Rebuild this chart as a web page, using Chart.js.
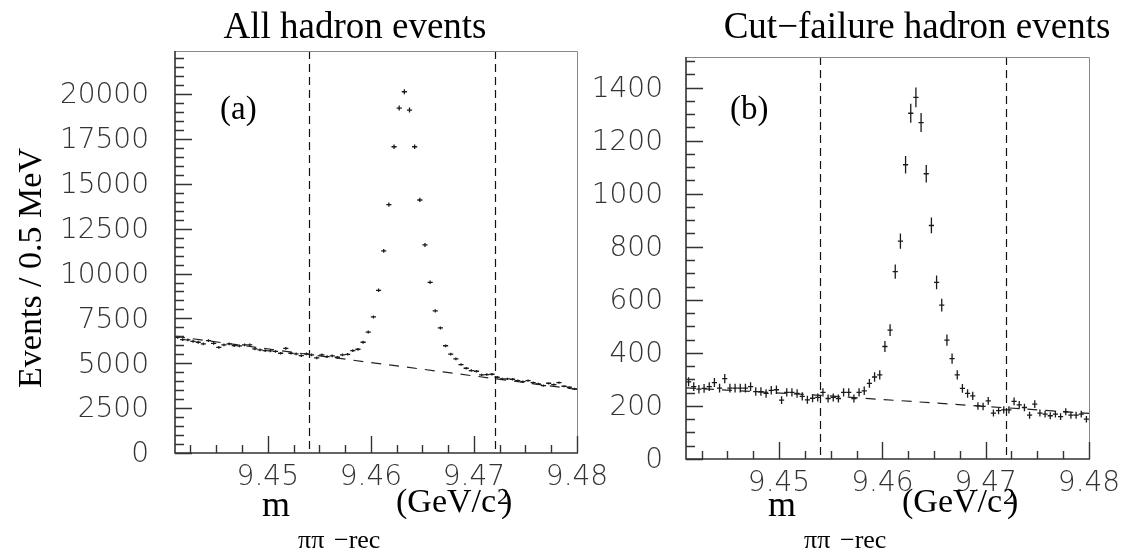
<!DOCTYPE html>
<html>
<head>
<meta charset="utf-8">
<script src="https://cdn.jsdelivr.net/npm/chart.js@4.4.1/dist/chart.umd.min.js"></script>
<style>
  html, body { margin: 0; padding: 0; background: #fff; }
  body { width: 1125px; height: 552px; position: relative; overflow: hidden; }
  canvas { position: absolute; left: 0; top: 0; }
</style>
</head>
<body>
<canvas id="chartA" width="1125" height="552" style="width:1125px;height:552px"></canvas>
<canvas id="chartB" width="1125" height="552" style="width:1125px;height:552px"></canvas>
<script>
// ---------------- data ----------------
const binWidth = 0.0005;           // GeV (0.5 MeV)
const xMin = 9.441, xMax = 9.48;

const binCenters = [
  9.44125, 9.44175, 9.44225, 9.44275, 9.44325, 9.44375, 9.44425, 9.44475, 9.44525, 9.44575,
  9.44625, 9.44675, 9.44725, 9.44775, 9.44825, 9.44875, 9.44925, 9.44975, 9.45025, 9.45075,
  9.45125, 9.45175, 9.45225, 9.45275, 9.45325, 9.45375, 9.45425, 9.45475, 9.45525, 9.45575,
  9.45625, 9.45675, 9.45725, 9.45775, 9.45825, 9.45875, 9.45925, 9.45975, 9.46025, 9.46075,
  9.46125, 9.46175, 9.46225, 9.46275, 9.46325, 9.46375, 9.46425, 9.46475, 9.46525, 9.46575,
  9.46625, 9.46675, 9.46725, 9.46775, 9.46825, 9.46875, 9.46925, 9.46975, 9.47025, 9.47075,
  9.47125, 9.47175, 9.47225, 9.47275, 9.47325, 9.47375, 9.47425, 9.47475, 9.47525, 9.47575,
  9.47625, 9.47675, 9.47725, 9.47775, 9.47825, 9.47875, 9.47925, 9.47975
];

// (a) All hadron events
const countsAll = [
  6447, 6320, 6303, 6225, 6170, 6080, 6264, 6114, 5891, 6025,
  6080, 5986, 5969, 6025, 6025, 5802, 5746, 5707, 5691, 5668,
  5557, 5835, 5557, 5523, 5429, 5523, 5468, 5301, 5468, 5373,
  5412, 5334, 5468, 5501, 5707, 5780, 6170, 6740, 7580, 9065,
  11258, 13836, 17066, 19220, 20128, 19110, 17066, 14098, 11592, 9510,
  7918, 6971, 5975, 5510, 5245, 4928, 4722, 4594, 4555, 4354,
  4371, 4388, 4221, 4131, 4131, 4109, 4037, 3981, 4037, 3925,
  3853, 3758, 3886, 3814, 3925, 3720, 3664, 3575
];

// (b) Cut-failure hadron events
const countsCutFail = [
  291, 273, 263, 266, 273, 288, 267, 303, 267, 267,
  267, 267, 273, 254, 254, 247, 259, 261, 222, 251,
  251, 247, 236, 223, 229, 232, 251, 228, 232, 228,
  251, 251, 228, 251, 257, 285, 309, 317, 424, 486,
  706, 821, 1109, 1303, 1363, 1268, 1075, 880, 666, 580,
  448, 378, 317, 266, 247, 238, 200, 198, 219, 173,
  182, 185, 185, 217, 204, 194, 165, 207, 173, 169,
  163, 169, 160, 178, 165, 165, 169, 150
];

// background fits (dashed curves)
const bgX = [9.441, 9.454, 9.467, 9.48];
const bgAll = [6500, 5490, 4520, 3540];
const bgCutFail = [268, 240, 206, 172];

// signal-region cut lines
const cutLines = [9.454, 9.472];

// axis ticks / labels
const xTickLabels = [9.45, 9.46, 9.47, 9.48];
const yTicksAll = [0, 2500, 5000, 7500, 10000, 12500, 15000, 17500, 20000];
const yTicksCutFail = [0, 200, 400, 600, 800, 1000, 1200, 1400];

// ---------------- drawing helpers ----------------
const SERIF = "'Liberation Serif', 'Times New Roman', serif";
const TICKFONT = { family: "'DejaVu Sans', sans-serif", size: 28, weight: '200' };

function rootPlugin(cfg) {
  return {
    id: 'rootStyle' + cfg.id,
    afterDatasetsDraw(chart) {
      const { ctx, chartArea: a, scales: { x, y } } = chart;
      ctx.save();
      // cut lines
      ctx.strokeStyle = '#111';
      ctx.lineWidth = 1.2;
      ctx.setLineDash([8, 5]);
      cutLines.forEach(c => {
        const px = Math.round(x.getPixelForValue(c)) + 0.5;
        ctx.beginPath(); ctx.moveTo(px, a.top); ctx.lineTo(px, a.bottom); ctx.stroke();
      });
      ctx.setLineDash([]);
      // error-bar crosses
      ctx.beginPath();
      ctx.rect(a.left, a.top, a.right - a.left, a.bottom - a.top);
      ctx.clip();
      ctx.strokeStyle = '#1a1a1a';
      ctx.lineWidth = 1.3;
      const ds = chart.data.datasets.find(d => d.errorBars);
      ds.data.forEach(p => {
        const err = Math.sqrt(p.y);
        const px = x.getPixelForValue(p.x);
        const py = y.getPixelForValue(p.y);
        const xl = x.getPixelForValue(p.x - binWidth / 2);
        const xr = x.getPixelForValue(p.x + binWidth / 2);
        const yt = y.getPixelForValue(p.y + err);
        const yb = y.getPixelForValue(p.y - err);
        ctx.beginPath();
        ctx.moveTo(xl, py); ctx.lineTo(xr, py);
        ctx.moveTo(px, yt); ctx.lineTo(px, yb);
        ctx.stroke();
      });
      ctx.restore();
    },
    afterDraw(chart) {
      const { ctx, chartArea: a, scales: { x, y } } = chart;
      ctx.save();
      // frame
      ctx.lineWidth = 1;
      ctx.strokeStyle = '#888';
      ctx.beginPath();
      ctx.moveTo(a.left, a.top + 0.5); ctx.lineTo(a.right + 0.5, a.top + 0.5); ctx.lineTo(a.right + 0.5, a.bottom);
      ctx.stroke();
      ctx.lineWidth = 1.6;
      ctx.strokeStyle = '#333';
      ctx.beginPath();
      ctx.moveTo(a.left, a.top); ctx.lineTo(a.left, a.bottom); ctx.lineTo(a.right + 1, a.bottom);
      ctx.stroke();
      // inward ticks
      ctx.lineWidth = 1.4;
      ctx.strokeStyle = '#333';
      ctx.beginPath();
      for (let v = 0; v <= y.max + 1e-9; v += cfg.yMinor) {
        const major = Math.abs(v / cfg.yMajor - Math.round(v / cfg.yMajor)) < 1e-6;
        const py = Math.round(y.getPixelForValue(v)) + 0.5;
        ctx.moveTo(a.left, py); ctx.lineTo(a.left + (major ? 17 : 9), py);
      }
      for (let k = 0; ; k++) {
        const v = 9.4425 + k * 0.0025;
        if (v > xMax + 1e-9) break;
        const major = k % 4 === 3;
        const px = Math.round(x.getPixelForValue(v)) + 0.5;
        ctx.moveTo(px, a.bottom); ctx.lineTo(px, a.bottom - (major ? 17 : 8));
      }
      ctx.stroke();
      // texts
      ctx.fillStyle = '#000';
      ctx.textAlign = 'center';
      ctx.textBaseline = 'alphabetic';
      ctx.font = `37px ${SERIF}`;
      ctx.fillText(cfg.title, cfg.titleX, 38);
      ctx.textAlign = 'left';
      ctx.textBaseline = 'middle';
      ctx.font = `33px ${SERIF}`;
      ctx.fillText(cfg.panel, cfg.panelX, 110);
      // x axis title
      drawXTitle(ctx, cfg.xTitleX, 516);
      if (cfg.yTitle) {
        ctx.save();
        ctx.translate(32, 268);
        ctx.rotate(-Math.PI / 2);
        ctx.textAlign = 'center';
        ctx.textBaseline = 'middle';
        ctx.font = `34px ${SERIF}`;
        ctx.fillText(cfg.yTitle, 0, 0);
        ctx.restore();
      }
      ctx.restore();
    }
  };
}

function drawXTitle(ctx, x0, y0) {
  ctx.textAlign = 'left';
  ctx.textBaseline = 'alphabetic';
  ctx.fillStyle = '#000';
  ctx.font = `36px ${SERIF}`;
  ctx.fillText('m', x0, y0);
  ctx.font = `26px ${SERIF}`;
  ctx.fillText('ππ', x0 + 36, y0 + 32);
  ctx.fillText('\u2212rec', x0 + 72, y0 + 32);
  ctx.font = `34px ${SERIF}`;
  ctx.fillText('(GeV/c', x0 + 134, y0 - 4);
  const w = ctx.measureText('(GeV/c').width;
  ctx.font = `24px ${SERIF}`;
  ctx.fillText('2', x0 + 134 + w + 1, y0 - 12);
  ctx.font = `34px ${SERIF}`;
  ctx.fillText(')', x0 + 134 + w + 5, y0 - 4);
}

function makeChart(id, cfg) {
  return new Chart(document.getElementById(id), {
    type: 'scatter',
    data: {
      datasets: [
        {
          type: 'line',
          data: bgX.map((v, i) => ({ x: v, y: cfg.bg[i] })),
          borderColor: '#222', borderWidth: 1.2, borderDash: [10, 8],
          pointRadius: 0, tension: 0, fill: false
        },
        {
          type: 'scatter',
          data: binCenters.map((v, i) => ({ x: v, y: cfg.counts[i] })),
          pointRadius: 0, errorBars: true
        }
      ]
    },
    options: {
      responsive: false, animation: false, devicePixelRatio: 1, events: [],
      layout: { padding: cfg.padding },
      plugins: { legend: { display: false }, tooltip: { enabled: false } },
      scales: {
        x: {
          type: 'linear', min: xMin, max: xMax,
          afterBuildTicks: s => { s.ticks = xTickLabels.map(v => ({ value: v })); },
          afterFit: s => { s.height = cfg.xAxisHeight; },
          grid: { display: false }, border: { display: false },
          ticks: { padding: 0, color: '#333', font: TICKFONT, autoSkip: false, maxRotation: 0,
                   callback: v => v.toFixed(2) }
        },
        y: {
          type: 'linear', min: 0, max: cfg.yMax,
          afterBuildTicks: s => { s.ticks = cfg.yTicks.map(v => ({ value: v })); },
          afterFit: s => { s.width = cfg.yAxisWidth; },
          grid: { display: false }, border: { display: false },
          ticks: { padding: cfg.yPad, labelOffset: 2, color: '#333', font: TICKFONT, autoSkip: false,
                   callback: v => String(v) }
        }
      }
    },
    plugins: [rootPlugin(cfg)]
  });
}

makeChart('chartA', {
  id: 'A', counts: countsAll, bg: bgAll, yMax: 22400, yTicks: yTicksAll,
  yMajor: 2500, yMinor: 500, yAxisWidth: 175, yPad: 18, xAxisHeight: 99,
  padding: { left: 0, right: 548, top: 51, bottom: 0 },
  title: 'All hadron events', titleX: 355, panel: '(a)', panelX: 220,
  xTitleX: 262, yTitle: 'Events / 0.5 MeV'
});

makeChart('chartB', {
  id: 'B', counts: countsCutFail, bg: bgCutFail, yMax: 1515, yTicks: yTicksCutFail,
  yMajor: 200, yMinor: 50, yAxisWidth: 686, yPad: 15, xAxisHeight: 93,
  padding: { left: 0, right: 36, top: 57, bottom: 0 },
  title: 'Cut\u2212failure hadron events', titleX: 917, panel: '(b)', panelX: 730,
  xTitleX: 768, yTitle: null
});
</script>
</body>
</html>
